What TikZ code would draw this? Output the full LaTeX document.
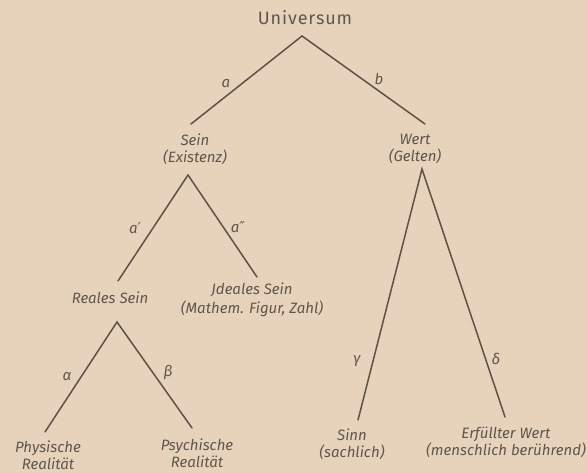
\documentclass[tikz,border=0pt]{standalone}
\usepackage{fontspec}
\setmainfont{Fira Sans}
\newfontfamily\dejavu{DejaVu Sans}
\definecolor{paper}{RGB}{231,211,187}
\definecolor{ink}{RGB}{92,82,72}
\definecolor{txt}{RGB}{95,86,76}
\begin{document}
\begin{tikzpicture}[x=1pt,y=-1pt,
  branch/.style={draw=ink,line width=1.5pt,line cap=round},
  lbl/.style={text=txt,font=\fontsize{15}{17}\selectfont\itshape,align=center,inner sep=0pt},
  edgelbl/.style={text=txt,font=\fontsize{15}{17}\selectfont\itshape,inner sep=0pt}]
\fill[paper] (0,0) rectangle (587,473);
\useasboundingbox (0,0) rectangle (587,473);
% nodes
\node[text=txt,font=\fontsize{18}{20}\selectfont\addfontfeature{LetterSpace=5},inner sep=0pt] (univ) at (305,18) {Universum};
\node[lbl] (sein) at (195,149) {Sein\\(Existenz)};
\node[lbl] (wert) at (415,149) {Wert\\(Gelten)};
\node[lbl] (reales) at (110,298) {Reales Sein};
\node[lbl,font=\fontsize{15}{19}\selectfont\itshape] (ideal) at (252,300) {Jdeales Sein\\(Mathem. Figur, Zahl)};
\node[lbl] (phys) at (48,455) {Physische\\Realität};
\node[lbl] (psych) at (197,453) {Psychische\\Realität};
\node[lbl] (sinn) at (352,444) {Sinn\\(sachlich)};
\node[lbl] (erf) at (506,442) {Erfüllter Wert\\(menschlich berührend)};
% coordinates
\coordinate (u0) at (302,36);
\coordinate (sL) at (191,124);
\coordinate (wR) at (425,124);
\coordinate (s0) at (188,175);
\coordinate (rL) at (118,281);
\coordinate (iR) at (257,277);
\coordinate (r0) at (117,322);
\coordinate (pL) at (45,432);
\coordinate (qR) at (192,428);
\coordinate (w0) at (422,169);
\coordinate (sE) at (358,420);
\coordinate (eE) at (505,417);
% branches
\draw[branch] (sL) -- (u0) -- (wR);
\draw[branch] (rL) -- (s0) -- (iR);
\draw[branch] (pL) -- (r0) -- (qR);
\draw[branch] (sE) -- (w0) -- (eE);
% edge labels
\node[edgelbl] (la) at (226,84) {a};
\node[edgelbl] (lb) at (379,79) {b};
\node[edgelbl] (la1) at (135,228) {a{\dejavu\itshape ′}};
\node[edgelbl] (la2) at (238,227) {a{\dejavu\itshape ″}};
\node[edgelbl] (lal) at (67,377) {α};
\node[edgelbl] (lbe) at (168,372) {β};
\node[edgelbl] (lga) at (357,361) {γ};
\node[edgelbl] (lde) at (496,359) {δ};
\end{tikzpicture}
\end{document}
